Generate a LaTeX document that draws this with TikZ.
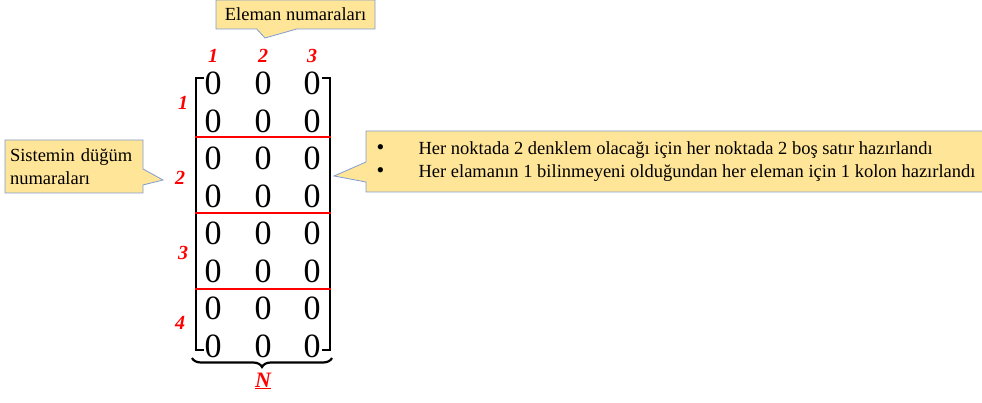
\documentclass[tikz,border=0pt]{standalone}
\usepackage{fontspec}
\setmainfont{Liberation Serif}
\usetikzlibrary{shapes.callouts,decorations.pathreplacing,positioning}
\definecolor{notefill}{HTML}{FFE597}
\definecolor{noteline}{HTML}{7F9DD1}
\definecolor{idxred}{HTML}{FF0000}
\tikzset{
  note/.style={
    rectangle callout, draw=noteline, fill=notefill, line width=0.8pt,
    font=\fontsize{18.5}{22.5}\selectfont, text=black, inner sep=4pt
  },
  entry/.style={font=\fontsize{34}{34}\selectfont, inner sep=0pt},
  idx/.style={font=\fontsize{20}{20}\selectfont\bfseries\itshape, text=idxred, inner sep=0pt},
  bracket/.style={line width=2.8pt, draw=black},
  rowsep/.style={line width=2.8pt, draw=idxred}
}
\newcommand{\bigdot}{\makebox[44pt][l]{\hspace{2pt}\smash{\fontsize{22}{20}\selectfont\textbullet}}}

\begin{document}
\begin{tikzpicture}[x=1pt,y=-1pt]
  \useasboundingbox (0,0) rectangle (982,403);

  % ---- Matrix entries ----
  \foreach \r in {1,...,8}{
    \foreach \c/\cx in {1/213,2/263,3/312}{
      \node[entry] (m\r\c) at (\cx,{83.5+37.5*(\r-1)}) {0};
    }
  }

  % ---- Brackets and node separators ----
  \draw[bracket] (204,78) -- (196,78) -- (196,350) -- (204,350);
  \draw[bracket] (322,78) -- (330,78) -- (330,350) -- (322,350);
  \foreach \y in {137,213,289}
    \draw[rowsep] (195,\y) -- (331,\y);

  % ---- Index labels ----
  \foreach \c/\cx in {1/213,2/263,3/312}
    \node[idx] (col\c) at (\cx,56) {\c};
  \foreach \r/\rx/\ry in {1/183/103,2/180/178,3/183/253,4/180/323}
    \node[idx] (row\r) at (\rx,\ry) {\r};

  % ---- Column count ----
  \draw[bracket, line width=2.2pt, decorate, decoration={brace, mirror, amplitude=9pt}]
    (192,358) -- (332,358);
  \node[idx, font=\fontsize{22}{22}\selectfont\bfseries\itshape] (ncount) at (263,381) {\underline{N}};

  % ---- Callouts ----
  \node[note, minimum width=159pt, minimum height=29pt,
        callout absolute pointer={(265,38)}, callout pointer width=40pt]
    (elemnote) at (295.5,14.5) {Eleman numaraları};
  \node[note, align=left, text width=128pt, minimum width=138pt, minimum height=53pt,
        callout absolute pointer={(163,180)}, callout pointer width=16pt]
    (nodenote) at (74,166.5) {Sistemin düğüm\\numaraları};
  \node[note, align=left, minimum width=618pt, minimum height=61pt,
        callout absolute pointer={(334,176)}, callout pointer width=20pt]
    (infonote) at (675,161.5)
    {\bigdot Her noktada 2 denklem olacağı için her noktada 2 boş satır hazırlandı\\
     \bigdot Her elamanın 1 bilinmeyeni olduğundan her eleman için 1 kolon hazırlandı};
\end{tikzpicture}
\end{document}
